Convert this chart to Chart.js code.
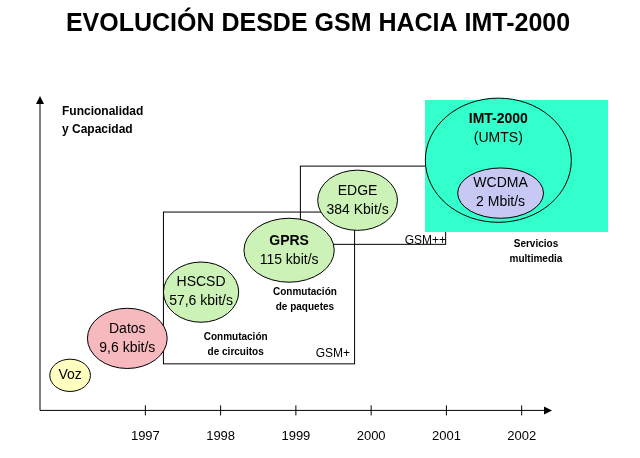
<!DOCTYPE html><html><head><meta charset="utf-8">
<script src="https://cdn.jsdelivr.net/npm/chart.js@4"></script>
<style>body{margin:0;background:#fff}#w{width:640px;height:458px}</style></head><body><div id="w"><canvas id="c"></canvas></div>
<script>
const years=[1997,1998,1999,2000,2001,2002];
const bubbleLabels=[["Voz"],["Datos","9,6 kbit/s"],["HSCSD","57,6 kbit/s"],["GPRS","115 kbit/s"],["EDGE","384 Kbit/s"],["IMT-2000","(UMTS)"],["WCDMA","2 Mbit/s"]];
const bubbleX=[1996.0,1996.76,1997.74,1998.91,1999.82,2001.69,2001.72];
const bubbleY=[11.3,23.2,38.1,51.6,67.7,80.6,70.0];
const bubbleRX=[0.27,0.53,0.5,0.6,0.53,0.97,0.57];
const bubbleRY=[5.2,9.7,9.7,10.3,9.7,20,8.1];
const bubbleColors=["#ffffc0","#f6b9bd","#ccf2b8","#ccf2b8","#ccf2b8","#33ffcc","#c8c8f4"];
const boxes=[{x0:1997.24,x1:1999.78,y0:15,y1:63.9,label:"GSM+"},{x0:1999.06,x1:2000.99,y0:53.5,y1:78.7,label:"GSM++"}];
const notes=[{x:1998.2,y:23.5,t:["Conmutación","de circuitos"]},{x:1999.12,y:38,t:["Conmutación","de paquetes"]},{x:2002.19,y:53.5,t:["Servicios","multimedia"]}];
const deco={id:'deco',beforeDatasetsDraw(ch){
 const c=ch.ctx,xs=ch.scales.x,ys=ch.scales.y,X=v=>xs.getPixelForValue(v),Y=v=>ys.getPixelForValue(v);
 c.save();
 c.fillStyle='#000';c.font='bold 25px Arial, "Liberation Sans"';c.textAlign='center';c.textBaseline='middle';
 c.fillText('EVOLUCIÓN DESDE GSM HACIA IMT-2000',318,24);
 c.strokeStyle='#000';c.lineWidth=1;
 const L=ch.chartArea.left,B=ch.chartArea.bottom;
 c.beginPath();c.moveTo(L,B);c.lineTo(L,100);c.moveTo(L,B);c.lineTo(548,B);c.stroke();
 c.beginPath();c.moveTo(L-4,104);c.lineTo(L,96);c.lineTo(L+4,104);c.fill();
 c.beginPath();c.moveTo(544,B-4);c.lineTo(552,B);c.lineTo(544,B+4);c.fill();
 years.forEach(y=>{c.beginPath();c.moveTo(X(y),B-5);c.lineTo(X(y),B+5);c.stroke();});
 c.font='bold 12px Arial';c.textAlign='left';c.fillText('Funcionalidad',62,112);c.fillText('y Capacidad',62,130);
 boxes.forEach(b=>{c.strokeStyle='#000';c.strokeRect(X(b.x0),Y(b.y1),X(b.x1)-X(b.x0),Y(b.y0)-Y(b.y1));});
 c.fillStyle='#33ffcc';c.fillRect(425,100,183,132);
 c.fillStyle='#000';c.font='12px Arial';c.textAlign='right';c.textBaseline='alphabetic';
 c.fillText('GSM+',350,357);c.fillText('GSM++',446,244);
 c.font='bold 10px Arial';c.textAlign='center';c.textBaseline='middle';
 notes.forEach(n=>n.t.forEach((t,i)=>c.fillText(t,X(n.x),Y(n.y)+i*15)));
 bubbleLabels.forEach((lb,i)=>{
  const cx=X(bubbleX[i]),cy=Y(bubbleY[i]),rx=X(bubbleX[i]+bubbleRX[i])-cx,ry=cy-Y(bubbleY[i]+bubbleRY[i]);
  c.beginPath();c.ellipse(cx,cy,rx,ry,0,0,Math.PI*2);c.fillStyle=bubbleColors[i];c.fill();c.strokeStyle='#000';c.lineWidth=1;c.stroke();
  c.fillStyle='#000';
  const ty=i==5?cy-32:cy;
  lb.forEach((t,j)=>{c.font=(j==0&&(i==3||i==5)?'bold ':'')+'14px Arial';c.fillText(t,cx,ty+(j-(lb.length-1)/2)*19);});
 });
 c.restore();}};
new Chart(document.getElementById('c'),{type:'scatter',data:{datasets:[{data:[]}]},
 plugins:[deco],
 options:{responsive:true,maintainAspectRatio:false,animation:false,
  layout:{padding:{left:40,right:92,top:100,bottom:4}},
  plugins:{legend:{display:false},tooltip:{enabled:false}},
  scales:{x:{type:'linear',min:1995.6,max:2002.35,afterBuildTicks:a=>{a.ticks=years.map(v=>({value:v}));},
     grid:{display:false},border:{display:false},ticks:{color:'#000',font:{size:13,family:'Arial'},padding:10,callback:v=>String(v)}},
   y:{display:false,min:0,max:100}}}});
</script></body></html>
